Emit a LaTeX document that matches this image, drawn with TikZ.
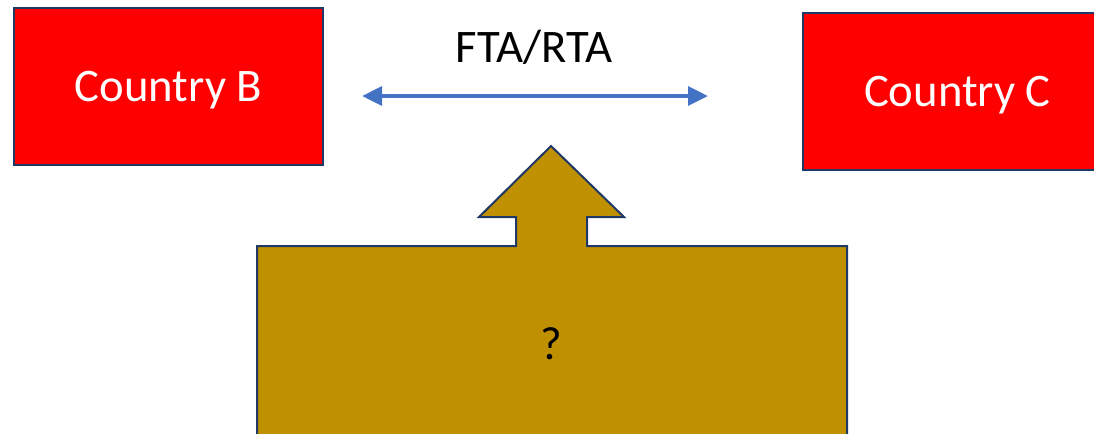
\documentclass[tikz,border=0pt]{standalone}
\usepackage{fontspec}
\setmainfont{Carlito}
\usetikzlibrary{arrows.meta,positioning}

\definecolor{boxred}{HTML}{FF0000}
\definecolor{boxline}{HTML}{203864}
\definecolor{gold}{HTML}{BF9000}
\definecolor{linkblue}{HTML}{4472C4}

\begin{document}
\begin{tikzpicture}[
    x = 0.75pt, y = -0.75pt, % pixel grid
    > = {Triangle[length=15pt, width=14pt]}, % arrow head style
    font = \fontsize{35}{42}\selectfont,
    ]

    \tikzset{country/.style={
    draw = boxline,
    line width = 1.5pt,
    fill = boxred,
    text = white,
    text depth = 0pt,
    inner sep = 0pt,
    minimum width = 231.75pt,
    minimum height = 117.75pt
    }}
    \useasboundingbox (0,0) rectangle (1094,433);

    \node[country] (cb) at (168.5,86.5) {Country B};
    \node[country] (cc) at (957.5,91.5) {Country C};
    \node (fta) at (534,47) {FTA/RTA};

    \coordinate (left end) at (362,96);
    \coordinate (right end) at (708,96);
    \draw[<->, linkblue, line width = 3pt] (left end) -- (right end);

    % pressure block with its up arrow
    \draw[boxline, line width = 1.5pt, fill = gold, line join = miter]
        (257,460) -- (257,246) -- (516,246) -- (516,217) -- (479,217)
        -- (551,146) -- (624,217) -- (587,217) -- (587,246)
        -- (847,246) -- (847,460);
    \node (q) at (551,344) {?};
\end{tikzpicture}
\end{document}
